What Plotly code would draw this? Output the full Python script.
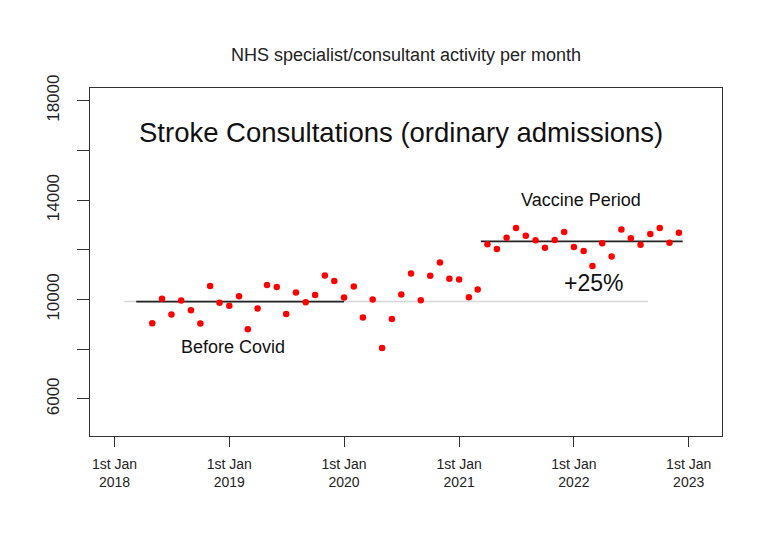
import plotly.graph_objects as go
import pandas as pd

# monthly stroke consultations, May 2018 - Dec 2022
months = pd.date_range("2018-05-01", "2022-12-01", freq="MS")
activity = [
    9045, 10030, 9395, 9960, 9570, 9030, 10540, 9865,            # 2018
    9745, 10135, 8800, 9635, 10580, 10500, 9420, 10280, 9890, 10185, 10965, 10740,  # 2019
    10080, 10525, 9275, 10000, 8050, 9220, 10200, 11050, 9970, 10955, 11490, 10835,  # 2020
    10805, 10095, 10405, 12220, 12030, 12490, 12880, 12570, 12380, 12085, 12390, 12715,  # 2021
    12110, 11950, 11345, 12260, 11735, 12820, 12470, 12205, 12635, 12880, 12285, 12690,  # 2022
]

df = pd.DataFrame({"month": months, "activity": activity})

pre_mask = df["month"] < "2020-01-01"
vac_mask = df["month"] >= "2021-04-01"
pre_mean = df.loc[pre_mask, "activity"].mean()
vac_mean = df.loc[vac_mask, "activity"].mean()

pre_span = ["2018-03-11", "2020-01-01"]
vac_span = ["2021-03-11", "2022-12-13"]
base_span = ["2018-02-01", "2022-08-25"]

year_ticks = ["2018-01-01", "2019-01-01", "2020-01-01", "2021-01-01", "2022-01-01", "2023-01-01"]
year_text = ["1st Jan<br>%s" % y for y in range(2018, 2024)]
y_ticks = [6000, 8000, 10000, 12000, 14000, 16000, 18000]
y_text = ["6000", "", "10000", "", "14000", "", "18000"]

font = "Liberation Sans, Arial, sans-serif"

fig = go.Figure()
fig.add_trace(go.Scatter(x=base_span, y=[pre_mean, pre_mean], mode="lines",
                         line=dict(color="#d6d6d6", width=1.5), hoverinfo="skip"))
fig.add_trace(go.Scatter(x=pre_span, y=[pre_mean, pre_mean], mode="lines",
                         line=dict(color="#222222", width=1.8)))
fig.add_trace(go.Scatter(x=vac_span, y=[vac_mean, vac_mean], mode="lines",
                         line=dict(color="#222222", width=1.8)))
fig.add_trace(go.Scatter(x=df["month"], y=df["activity"], mode="markers",
                         marker=dict(color="red", size=6.5)))

labels = [
    ("Stroke Consultations (ordinary admissions)", 0.492, 0.871, 27.5),
    ("Vaccine Period", 0.777, 0.678, 18),
    ("+25%", 0.796, 0.440, 23),
    ("Before Covid", 0.226, 0.256, 18),
]
for txt, ax, ay, sz in labels:
    fig.add_annotation(text=txt, x=ax, y=ay, xref="paper", yref="paper",
                       xanchor="center", yanchor="middle", showarrow=False,
                       font=dict(size=sz, color="#111111", family=font))

# page body adds 8px, so the figure is drawn a little smaller
fig.update_layout(
    width=760, height=540,
    margin=dict(l=82, r=46, t=80, b=112),
    paper_bgcolor="white", plot_bgcolor="white",
    showlegend=False,
    font=dict(family=font, color="#222222"),
    title=dict(text="NHS specialist/consultant activity per month",
               x=0.5, xref="paper", y=1 - 47 / 540, yref="container",
               xanchor="center", yanchor="middle",
               font=dict(size=18, color="#222222", family=font)),
)
fig.update_xaxes(range=["2017-10-15", "2023-04-17"], tickvals=year_ticks, ticktext=year_text,
                 ticks="outside", ticklen=10, tickwidth=1.2, tickcolor="#333333",
                 showline=True, mirror=True, linecolor="#333333", linewidth=1.3,
                 showgrid=False, zeroline=False, tickfont=dict(size=14),
                 ticklabelstandoff=5)
fig.update_yaxes(range=[4507, 18512], tickvals=y_ticks, ticktext=y_text,
                 ticks="outside", ticklen=12, tickwidth=1.2, tickcolor="#333333",
                 showline=True, mirror=True, linecolor="#333333", linewidth=1.3,
                 showgrid=False, zeroline=False, tickangle=-90, tickfont=dict(size=17),
                 ticklabelstandoff=11)

fig.write_html("out.html")
